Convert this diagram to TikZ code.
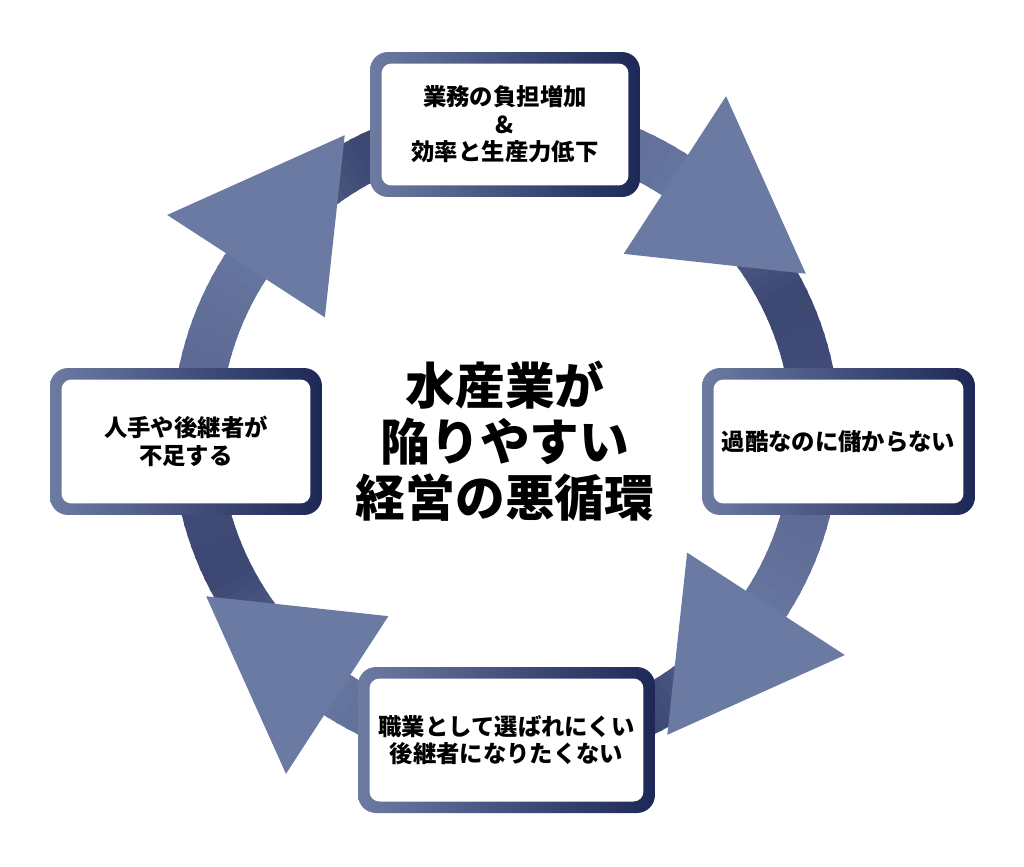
\documentclass[tikz,border=0pt]{standalone}
\usepackage{fontspec}
\newfontfamily\cjk{Noto Sans CJK JP}
\usetikzlibrary{calc}
\definecolor{ringA}{HTML}{56648F}
\definecolor{ringB}{HTML}{66759E}
\definecolor{ringC}{HTML}{3C4772}
\definecolor{ringD}{HTML}{444F7C}
\definecolor{triC}{HTML}{6B7AA2}
\definecolor{bordL}{HTML}{6D7BA3}
\definecolor{bordR}{HTML}{1D2856}
\begin{document}
\begin{tikzpicture}[x=0.02cm,y=-0.02cm,
  outerbox/.style={rectangle, inner sep=0pt, rounded corners=0.36cm, left color=bordL, right color=bordR, draw=none},
  innerbox/.style={rectangle, inner sep=0pt, rounded corners=0.2cm, fill=white, draw=none, align=center,
    font=\cjk\bfseries\fontsize{13.3}{15.6}\selectfont},
  tri/.style={fill=triC, draw=none},
  title/.style={align=center, font=\cjk\bfseries\fontsize{28.3}{31.8}\selectfont}]
\useasboundingbox (0,0) rectangle (1024,866);
\fill[white] (0,0) rectangle (1024,866);
\coordinate (c) at (506,435);
% ring segments with gradient
\foreach \s in {-90,0,90,180}{
  \foreach \t in {0,2,...,88}{
    \pgfmathtruncatemacro\seg{\t<33 ? 0 : (\t<63 ? 1 : 2)}
    \ifcase\seg
      \pgfmathsetmacro\pp{\t/33*100}\colorlet{rc}{ringB!\pp!ringA}
    \or
      \pgfmathsetmacro\pp{(\t-33)/30*100}\colorlet{rc}{ringC!\pp!ringB}
    \else
      \pgfmathsetmacro\pp{(\t-63)/27*100}\colorlet{rc}{ringD!\pp!ringC}
    \fi
    \fill[rc] ($(c)+(\s+\t:286)$) -- ($(c)+(\s+\t:334)$) -- ($(c)+(\s+\t+2.6:334)$) -- ($(c)+(\s+\t+2.6:286)$) -- cycle;
  }
}
% arrowheads
\foreach \a in {-57,33,123,213}{
  \fill[tri] ($(c)+(\a:216)$) -- ($(c)+(\a:404)$) -- ($(c)+(\a:310)+(\a+94:164)$) -- cycle;
}
% boxes
\node[outerbox, minimum width=5.40cm, minimum height=2.90cm] (top) at (505,124.5) {};
\node[innerbox, minimum width=4.94cm, minimum height=2.44cm] (topt) at (top) {業務の負担増加\\\&\\効率と生産力低下};
\node[outerbox, minimum width=5.46cm, minimum height=2.94cm] (right) at (838.5,441.5) {};
\node[innerbox, minimum width=5.00cm, minimum height=2.48cm] (rightt) at (right) {過酷なのに儲からない};
\node[outerbox, minimum width=5.94cm, minimum height=2.92cm] (bottom) at (506.5,740) {};
\node[innerbox, minimum width=5.48cm, minimum height=2.46cm] (bottomt) at (bottom) {職業として選ばれにくい\\後継者になりたくない};
\node[outerbox, minimum width=5.44cm, minimum height=2.94cm] (left) at (186,441.5) {};
\node[innerbox, minimum width=4.98cm, minimum height=2.48cm] (leftt) at (left) {人手や後継者が\\不足する};
% title
\node[title] (ttl) at (505,441) {水産業が\\陥りやすい\\経営の悪循環};
\end{tikzpicture}
\end{document}
